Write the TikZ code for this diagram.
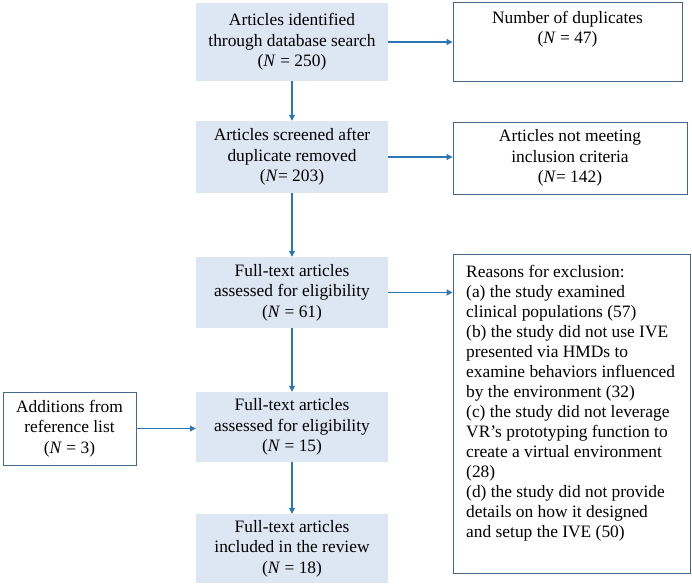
\documentclass[tikz,border=0pt]{standalone}
\usepackage{fontspec}
\setmainfont{Liberation Serif}
\usetikzlibrary{arrows.meta}
\definecolor{boxblue}{RGB}{221,231,243}
\definecolor{arrblue}{RGB}{46,117,182}
\definecolor{edgeblue}{RGB}{68,104,140}
\begin{document}
\begin{tikzpicture}[x=1pt,y=-1pt,
  every node/.style={font=\fontsize{17.4}{20.5}\selectfont, inner sep=0pt},
  mainbox/.style={fill=boxblue, minimum width=192pt, align=center},
  sidebox/.style={draw=edgeblue, line width=0.9pt, align=center},
  flow/.style={draw=arrblue, line width=1.1pt, -{Triangle[length=6pt,width=6pt]}}]
\useasboundingbox (0,0) rectangle (692,586);
% main column
\node[mainbox, minimum height=78pt] (b1) at (292,42) {Articles identified\\through database search\\(\textit{N} = 250)};
\node[mainbox, minimum height=72pt] (b2) at (292,157) {Articles screened after\\duplicate removed\\(\textit{N}= 203)};
\node[mainbox, minimum height=71pt] (b3) at (292,292.5) {Full-text articles\\assessed for eligibility\\(\textit{N} = 61)};
\node[mainbox, minimum height=70pt] (b4) at (292,427) {Full-text articles\\assessed for eligibility\\(\textit{N} = 15)};
\node[mainbox, minimum height=69pt] (b5) at (292,548.5) {Full-text articles\\included in the review\\(\textit{N} = 18)};
% side boxes
\node[sidebox, minimum width=229pt, minimum height=79pt] (dup) at (567.5,41.5) {};
\node[anchor=north, align=center] (duptext) at (567.5,11) {Number of duplicates\\(\textit{N} = 47)};
\node[sidebox, minimum width=234pt, minimum height=72pt] (notmeet) at (570,158) {Articles not meeting\\inclusion criteria\\(\textit{N}= 142)};
\node[sidebox, minimum width=237pt, minimum height=319pt] (reasons) at (571.5,413.5) {};
\node[anchor=north west, align=left, font=\fontsize{17.4}{20}\selectfont] (reasontext) at (466,265) {Reasons for exclusion:\\(a) the study examined\\clinical populations (57)\\(b) the study did not use IVE\\presented via HMDs to\\examine behaviors influenced\\by the environment (32)\\(c) the study did not leverage\\VR’s prototyping function to\\create a virtual environment\\(28)\\(d) the study did not provide\\details on how it designed\\and setup the IVE (50)};
\node[sidebox, minimum width=133pt, minimum height=73pt] (add) at (69.5,428.5) {Additions from\\reference list\\(\textit{N} = 3)};
% connectors
\draw[flow] (b1) -- (b2);
\draw[flow] (b2) -- (b3);
\draw[flow] (b3) -- (b4);
\draw[flow] (b4) -- (b5);
\draw[flow] (b1.east) -- (b1.east -| dup.west);
\draw[flow] (b2.east) -- (b2.east -| notmeet.west);
\draw[flow] (b3.east) -- (b3.east -| reasons.west);
\draw[flow] (add.east) -- (add.east -| b4.west);
\end{tikzpicture}
\end{document}
